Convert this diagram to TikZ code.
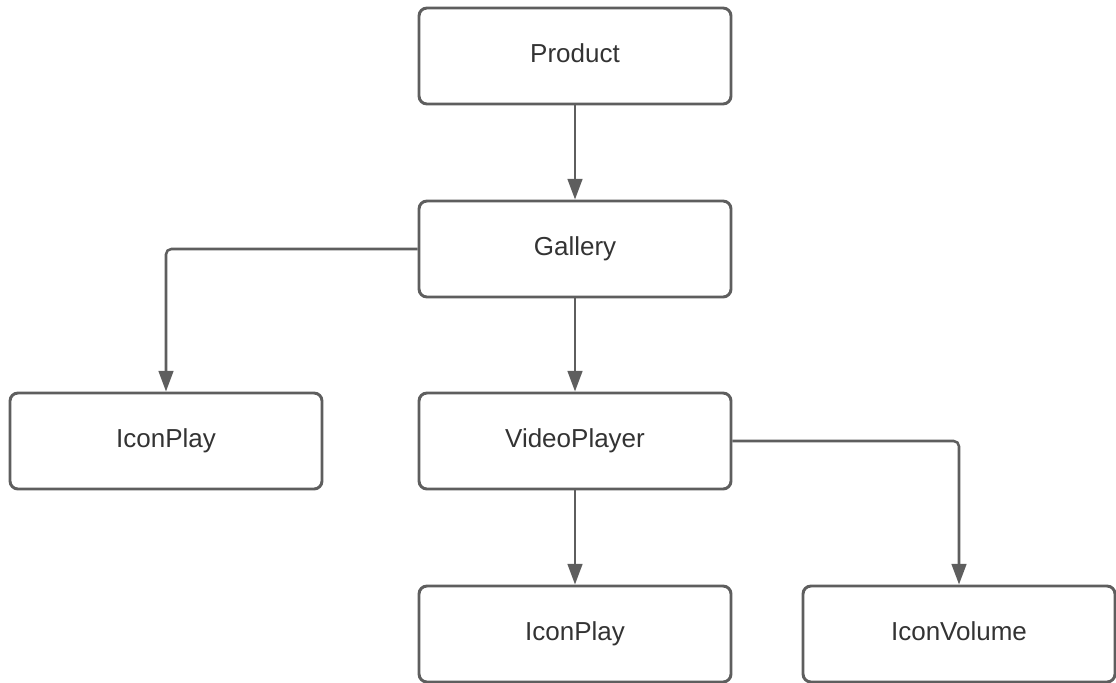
\documentclass[tikz,border=0pt]{standalone}
\usepackage{fontspec}
\setmainfont{Liberation Sans}
\usetikzlibrary{arrows.meta}
\definecolor{edgegray}{HTML}{5E5E5E}
\definecolor{labelgray}{HTML}{333333}
\begin{document}
\begin{tikzpicture}[x=0.75pt,y=-0.75pt,
  comp/.style={draw=edgegray, line width=2.2pt, rounded corners=6pt,
    minimum width=234pt, minimum height=72pt, inner sep=0pt, fill=white,
    text=labelgray, font=\fontsize{19.5}{23}\selectfont,
    text height=13pt, text depth=3.25pt},
  link/.style={draw=edgegray, line width=1.9pt, rounded corners=4pt,
    -{Triangle[length=15.5pt,width=11pt]}}]
  \useasboundingbox (0,0) rectangle (1116,682);
  % component tree
  \node[comp] (product) at (575,56)  {Product};
  \node[comp] (gallery) at (575,249) {Gallery};
  \node[comp] (vplayer) at (575,441) {VideoPlayer};
  \node[comp] (playL)   at (166,441) {IconPlay};
  \node[comp] (playB)   at (575,634) {IconPlay};
  \node[comp] (volume)  at (959,634) {IconVolume};
  % parent -> child links
  \draw[link] (product) -- (gallery);
  \draw[link] (gallery.west) -| (playL.north);
  \draw[link] (gallery) -- (vplayer);
  \draw[link] (vplayer) -- (playB);
  \draw[link] (vplayer.east) -| (volume.north);
\end{tikzpicture}
\end{document}
